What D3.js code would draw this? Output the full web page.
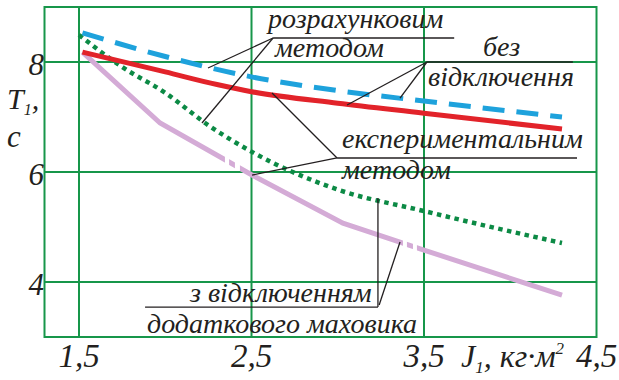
<!DOCTYPE html>
<html>
<head>
<meta charset="utf-8">
<script src="https://cdn.jsdelivr.net/npm/d3@7"></script>
<style>
  html, body { margin: 0; padding: 0; background: #fff; }
  svg { display: block; }
  text { font-family: "Liberation Serif", "Times New Roman", serif; font-style: italic; fill: #231f20; }
</style>
</head>
<body>
<svg id="chart" width="619" height="380"></svg>
<script>
// Moment of inertia J1, kg·m², and period T1, s
const xTicks = [1.5, 2.5, 3.5, 4.5];
const xTickLabels = ["1,5", "2,5", "3,5", "4,5"];
const yTicks = [4, 6, 8];
const yTickLabels = ["4", "6", "8"];

// calculated, without disconnection
const calcWithoutJ = [1.52, 2.0, 2.5, 3.0, 3.5, 4.3];
const calcWithoutT = [8.53, 8.1, 7.73, 7.48, 7.29, 7.0];
// experimental, without disconnection
const expWithoutJ = [1.52, 2.0, 2.3, 2.5, 3.0, 3.5, 4.3];
const expWithoutT = [8.18, 7.82, 7.59, 7.46, 7.25, 7.07, 6.78];
// calculated, with the extra flywheel disconnected
const calcWithJ = [1.5, 1.75, 2.0, 2.25, 2.5, 3.0, 3.5, 4.0, 4.3];
const calcWithT = [8.49, 7.91, 7.44, 6.85, 6.37, 5.68, 5.29, 4.92, 4.71];
// experimental, with the extra flywheel disconnected
const expWithJ = [1.52, 1.97, 2.5, 3.03, 3.5, 4.3];
const expWithT = [8.18, 6.89, 5.95, 5.07, 4.58, 3.76];
// short breaks in the experimental curve (J1 ranges)
const expWithBreaks = [[2.346, 2.370], [2.404, 2.433], [3.378, 3.401], [3.436, 3.459]];

const svg = d3.select("#chart");
const x = d3.scaleLinear().domain([1.3, 4.5]).range([44.5, 596.5]);
const y = d3.scaleLinear().domain([3, 9]).range([337, 7]);

const gridColor = "#17964a";

// frame and grid
const grid = svg.append("g");
grid.append("rect")
  .attr("x", x(1.3)).attr("y", y(9))
  .attr("width", x(4.5) - x(1.3)).attr("height", y(3) - y(9))
  .attr("fill", "none").attr("stroke", gridColor).attr("stroke-width", 2);
grid.selectAll("line.v").data(xTicks.slice(0, 3)).join("line")
  .attr("x1", d => x(d)).attr("x2", d => x(d))
  .attr("y1", y(9)).attr("y2", y(3))
  .attr("stroke", gridColor).attr("stroke-width", 2);
grid.selectAll("line.h").data(yTicks).join("line")
  .attr("y1", d => y(d)).attr("y2", d => y(d))
  .attr("x1", x(1.3)).attr("x2", x(4.5))
  .attr("stroke", gridColor).attr("stroke-width", 2);

// tick labels
svg.append("g").selectAll("text").data(xTicks).join("text")
  .attr("x", d => x(d)).attr("y", 367)
  .attr("text-anchor", "middle").attr("font-size", 33)
  .text((d, i) => xTickLabels[i]);
svg.append("g").selectAll("text").data(yTicks).join("text")
  .attr("x", 44).attr("y", d => y(d) + 13)
  .attr("text-anchor", "end").attr("font-size", 31)
  .text((d, i) => yTickLabels[i]);

// axis titles
const yt = svg.append("text").attr("x", 7).attr("y", 109).attr("font-size", 30);
yt.append("tspan").text("T");
yt.append("tspan").attr("font-size", 16).attr("dy", 6).text("1");
yt.append("tspan").attr("dy", -6).text(",");
svg.append("text").attr("x", 7).attr("y", 147).attr("font-size", 31).text("c");

const xt = svg.append("text").attr("x", 461).attr("y", 367).attr("font-size", 32);
xt.append("tspan").text("J");
xt.append("tspan").attr("font-size", 17).attr("dy", 6).text("1");
xt.append("tspan").attr("dy", -6).text(", кг·м");
xt.append("tspan").attr("font-size", 17).attr("dy", -13).text("2");

// curves
const line = d3.line().x(d => x(d[0])).y(d => y(d[1]));
const zip = (a, b) => a.map((v, i) => [v, b[i]]);

// clip that leaves the short breaks open in the experimental "with" curve
const cuts = [1.3, ...expWithBreaks.flat(), 4.5];
const clip = svg.append("defs").append("clipPath").attr("id", "breaks");
for (let i = 0; i < cuts.length; i += 2) {
  clip.append("rect")
    .attr("x", x(cuts[i])).attr("width", x(cuts[i + 1]) - x(cuts[i]))
    .attr("y", 0).attr("height", 380);
}

svg.append("path").datum(zip(expWithJ, expWithT))
  .attr("d", line.curve(d3.curveLinear))
  .attr("fill", "none").attr("stroke", "#d4abd6").attr("stroke-width", 5)
  .attr("clip-path", "url(#breaks)");

svg.append("path").datum(zip(calcWithJ, calcWithT))
  .attr("d", line.curve(d3.curveMonotoneX))
  .attr("fill", "none").attr("stroke", "#0c8a45").attr("stroke-width", 4.5)
  .attr("stroke-dasharray", "4.5,4.5");

svg.append("path").datum(zip(expWithoutJ, expWithoutT))
  .attr("d", line.curve(d3.curveMonotoneX))
  .attr("fill", "none").attr("stroke", "#e2232a").attr("stroke-width", 5);

svg.append("path").datum(zip(calcWithoutJ, calcWithoutT))
  .attr("d", line.curve(d3.curveMonotoneX))
  .attr("fill", "none").attr("stroke", "#1ea2dc").attr("stroke-width", 5)
  .attr("stroke-dasharray", "22,12");

// annotation leaders (in chart units)
const leaders = [
  // розрахунковим методом
  [[2.625, 8.436], [3.675, 8.436]],
  [[2.625, 8.436], [2.248, 7.891]],
  [[2.625, 8.436], [2.213, 6.891]],
  // без відключення
  [[3.517, 8.0], [4.363, 8.0]],
  [[3.517, 8.0], [3.054, 7.218]],
  [[3.517, 8.0], [3.361, 7.345]],
  // експериментальним методом
  [[2.996, 6.255], [4.387, 6.255]],
  [[2.996, 6.255], [2.619, 7.436]],
  [[2.996, 6.255], [2.503, 5.945]],
  // з відключенням додаткового маховика
  [[1.883, 3.545], [3.233, 3.545]],
  [[3.233, 3.545], [3.233, 5.527]],
  [[3.240, 3.582], [3.361, 4.727]]
];
svg.append("g").selectAll("path").data(leaders).join("path")
  .attr("d", d3.line().x(d => x(d[0])).y(d => y(d[1])))
  .attr("fill", "none").attr("stroke", "#231f20").attr("stroke-width", 1.3);

const notes = [
  { t: "розрахунковим", x: 268, y: 28 },
  { t: "методом", x: 275, y: 57 },
  { t: "без", x: 483, y: 56 },
  { t: "відключення", x: 428, y: 86 },
  { t: "експериментальним", x: 342, y: 148 },
  { t: "методом", x: 342, y: 179 },
  { t: "з відключенням", x: 190, y: 302 },
  { t: "додаткового маховика", x: 147, y: 333 }
];
svg.append("g").selectAll("text").data(notes).join("text")
  .attr("x", d => d.x).attr("y", d => d.y)
  .attr("font-size", 28)
  .text(d => d.t);
</script>
</body>
</html>
